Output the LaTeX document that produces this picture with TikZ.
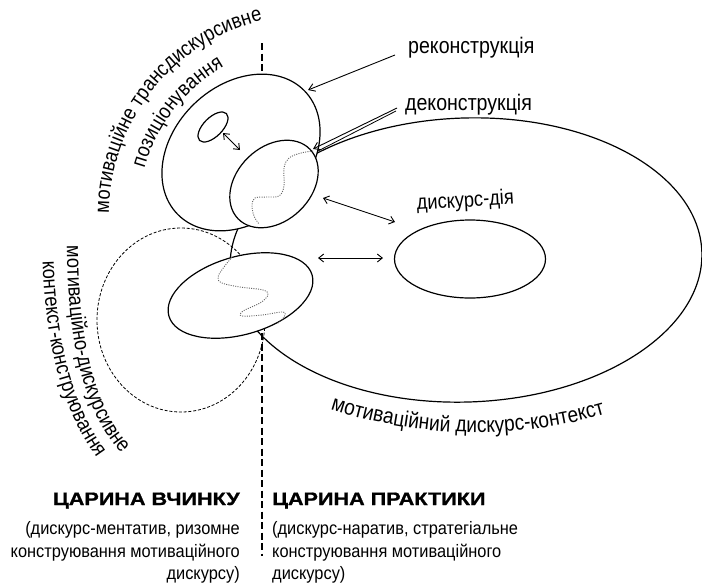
\documentclass[tikz,border=0pt]{standalone}
\usepackage{fontspec}
\setmainfont{Liberation Sans}
\newfontfamily\labfont[FakeStretch=0.87]{Liberation Sans}
\newfontfamily\botfont[FakeStretch=0.91]{Liberation Sans}
\newfontfamily\headfont[FakeStretch=1.2,FakeBold=1.2]{Liberation Sans}
\usetikzlibrary{shapes.geometric,arrows.meta,decorations.text}
\begin{document}
\begin{tikzpicture}[x=1pt,y=-1pt,
  shapeline/.style={draw=black, line width=1.2pt},
  ell/.style={ellipse, shapeline, inner sep=0pt, fill=white},
  wave/.style={draw=black!60, line width=0.9pt, dash pattern=on 1pt off 1.3pt},
  divider/.style={draw=black, line width=1.5pt, dash pattern=on 7pt off 3.5pt},
  ctxdash/.style={draw=black, line width=0.8pt, dash pattern=on 3pt off 1.8pt},
  link/.style={draw=black, line width=0.9pt, {Straight Barb[length=5pt,width=8pt]}-{Straight Barb[length=5pt,width=8pt]}},
  pointer/.style={draw=black, line width=0.9pt, -{Straight Barb[length=6pt,width=8pt]}},
  lab/.style={inner sep=0pt, font=\labfont\fontsize{22.5}{26}\selectfont},
  botline/.style={inner sep=0pt, font=\botfont\fontsize{18}{22}\selectfont},
  head/.style={inner sep=0pt, font=\headfont\bfseries\fontsize{18}{22}\selectfont},
]
\useasboundingbox[fill=white] (0,0) rectangle (702,582);

% big context ellipse
\node[ellipse, shapeline, inner sep=0pt, minimum width=472pt, minimum height=284pt, rotate=2] (ctx) at (466,260) {};
% dashed context-construction circle
\node[ellipse, ctxdash, inner sep=0pt, minimum width=168pt, minimum height=184pt] (mdc) at (181,320) {};
% transdiscursive positioning ellipse
\node[ell, minimum width=177pt, minimum height=135pt, rotate=44] (mtp) at (241,152.5) {};
% middle ellipse
\node[ell, minimum width=100pt, minimum height=74pt, rotate=44] (mid) at (274,184) {};
% lower ellipse
\node[ell, minimum width=149pt, minimum height=78pt, rotate=16] (low) at (240.5,295.5) {};
% small ellipse
\node[ell, minimum width=38pt, minimum height=19pt, rotate=45] (sml) at (213,127) {};
% discourse-action ellipse
\node[ell, minimum width=151pt, minimum height=78pt] (act) at (470,259) {};

% dotted waves
\draw[wave] plot[smooth, tension=0.6] coordinates {(313,151) (301,153) (289,158) (284,168) (284,186) (279,196) (266,197) (255,198) (252,205) (254,216) (259,224)};
\draw[wave] plot[smooth, tension=0.6] coordinates {(232,257) (224,267) (218,277) (222,283) (240,287) (263,290) (268,295) (260,303) (243,311) (242,316) (262,315) (283,312) (284,317) (278,323)};

% arrows
\coordinate (smlA) at (223,133);
\coordinate (midA) at (240,150);
\coordinate (midB) at (323,198);
\coordinate (actA) at (395,222);
\coordinate (lowB) at (318,258);
\coordinate (actB) at (383,258);
\coordinate (recS) at (395,55);
\coordinate (recE) at (308,90);
\coordinate (decS) at (397,108);
\coordinate (decE) at (313,149);
\coordinate (decS2) at (396,111);
\coordinate (decE2) at (318,151);
\draw[link] (smlA) -- (midA);
\draw[link] (midB) -- (actA);
\draw[link] (lowB) -- (actB);
\draw[pointer] (recS) -- (recE);
\draw[pointer] (decS) -- (decE);
\draw[draw=black, line width=0.8pt] (decS2) -- (decE2);

% dividing dashed line
\coordinate (divT1) at (262,43);
\coordinate (divT2) at (262,74);
\coordinate (divB1) at (262,333);
\coordinate (divB2) at (262,556);
\draw[divider] (divT1) -- (divT2);
\draw[divider] (divB1) -- (divB2);

% labels
\node[lab, anchor=base west] (rec) at (408,53) {реконструкція};
\node[lab, anchor=base west] (dec) at (405,110) {деконструкція};
\node[lab, anchor=base west, rotate=3.5, font=\labfont\fontsize{21}{24}\selectfont] (actlab) at (417,210) {дискурс-дія};

% curved labels
\path[decorate, decoration={text along path, text align=center,
  text={|\labfont\fontsize{21}{24}\selectfont|мотиваційне трансдискурсивне}}]
  (309,215) ++(175:200) arc[start angle=175, end angle=262, radius=200];
\path[decorate, decoration={text along path, text align=center,
  text={|\labfont\fontsize{21}{24}\selectfont|позиціонування}}]
  (309,215) ++(190:171) arc[start angle=190, end angle=246, radius=171];
\path[decorate, decoration={text along path, text align=center,
  text={|\labfont\fontsize{21}{24}\selectfont|мотиваційно-дискурсивне}}]
  (67,228) .. controls (66,335) and (80,418) .. (134,466);
\path[decorate, decoration={text along path, text align=center,
  text={|\labfont\fontsize{21}{24}\selectfont|контекст-конструювання}}]
  (42,243) .. controls (44,342) and (60,416) .. (108,472);
\path[decorate, decoration={text along path, text align=center,
  text={|\labfont\fontsize{22}{26}\selectfont|мотиваційний дискурс-контекст}}]
  (475.6,-35.6) ++(112:468) arc[start angle=112, end angle=70, radius=468];

% bottom captions
\node[head, anchor=base east] (zvh) at (240,505) {ЦАРИНА ВЧИНКУ};
\node[botline, anchor=base east] (zv1) at (240,534) {(дискурс-ментатив, ризомне};
\node[botline, anchor=base east] (zv2) at (240,557) {конструювання мотиваційного};
\node[botline, anchor=base east] (zv3) at (240,579) {дискурсу)};
\node[head, anchor=base west] (zph) at (272,505) {ЦАРИНА ПРАКТИКИ};
\node[botline, anchor=base west] (zp1) at (272,534) {(дискурс-наратив, стратегіальне};
\node[botline, anchor=base west] (zp2) at (272,557) {конструювання мотиваційного};
\node[botline, anchor=base west] (zp3) at (272,579) {дискурсу)};
\end{tikzpicture}
\end{document}
